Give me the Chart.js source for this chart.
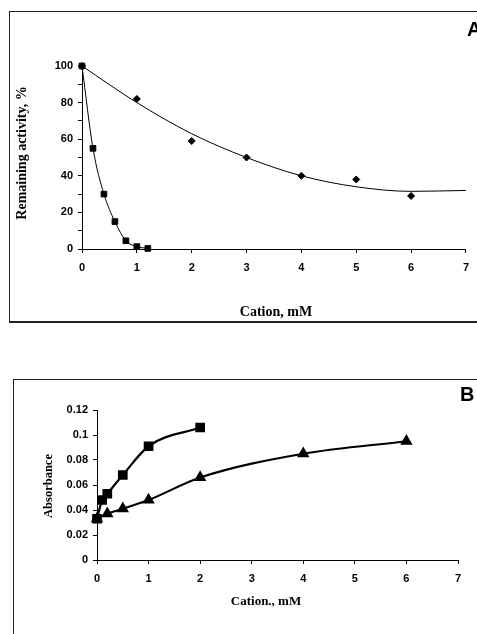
<!DOCTYPE html>
<html>
<head>
<meta charset="utf-8">
<script src="https://cdn.jsdelivr.net/npm/chart.js@4"></script>
<style>
  body { margin: 0; background: #fff; width: 477px; height: 634px; overflow: hidden; position: relative; }
  .frame { position: absolute; border: 1px solid #222; }
  #frameA { left: 9px; top: 11px; width: 480px; height: 309px; border-bottom-width: 2px; }
  #frameB { left: 13px; top: 379px; width: 480px; height: 300px; }
  canvas { position: absolute; left: 0; }
  #chartA { top: 0; }
  #chartB { top: 340px; }
</style>
</head>
<body>
<div class="frame" id="frameA"></div>
<div class="frame" id="frameB"></div>
<canvas id="chartA" width="477" height="330"></canvas>
<canvas id="chartB" width="477" height="294"></canvas>
<script>
// Panel A: remaining activity vs cation
const cationA1 = [0, 1, 2, 3, 4, 5, 6];
const activityA1 = [100, 82, 59, 50, 40, 38, 29];
const trendXA1 = [0, 1, 2, 3, 4, 5, 6, 7];
const trendA1 = [100, 80, 63, 50, 40, 34, 31.5, 32];
const cationA2 = [0, 0.2, 0.4, 0.6, 0.8, 1.0, 1.2];
const activityA2 = [100, 55, 30, 15, 4.5, 1.3, 0.3];

// Panel B: absorbance vs cation
const cationB1 = [0, 0.1, 0.2, 0.5, 1, 2];
const absB1 = [0.033, 0.048, 0.053, 0.068, 0.091, 0.106];
const cationB2 = [0, 0.2, 0.5, 1, 2, 4, 6];
const absB2 = [0.033, 0.037, 0.041, 0.048, 0.066, 0.085, 0.095];

const pts = (xs, ys) => xs.map((x, i) => ({ x: x, y: ys[i] }));

const tickFont = { family: 'Liberation Sans', weight: 'bold', size: 11 };
Chart.defaults.color = '#000';
Chart.defaults.animation = false;

// draws axis titles and panel letters
const axisTitles = {
  id: 'axisTitles',
  afterDraw(chart, args, opts) {
    const ctx = chart.ctx;
    ctx.save();
    ctx.fillStyle = '#000';
    ctx.textBaseline = 'middle';
    opts.items.forEach(it => {
      ctx.save();
      ctx.font = it.font;
      ctx.textAlign = it.align || 'center';
      ctx.translate(it.x, it.y);
      if (it.rotate) ctx.rotate(-Math.PI / 2);
      ctx.fillText(it.text, 0, 0);
      ctx.restore();
    });
    ctx.restore();
  }
};

function axis(min, max, step, size, isX, cb) {
  return {
    type: 'linear',
    min: min,
    max: max,
    ticks: { stepSize: step, font: tickFont, padding: isX ? 8 : 5, callback: cb },
    grid: { drawOnChartArea: false, drawTicks: true, tickLength: 4, color: '#000' },
    border: { color: '#000', width: 1 },
    afterFit: s => { if (isX) s.height = size; else s.width = size; }
  };
}

new Chart(document.getElementById('chartA'), {
  type: 'scatter',
  data: {
    datasets: [
      {
        data: pts(trendXA1, trendA1),
        showLine: true, borderColor: '#000', borderWidth: 1,
        cubicInterpolationMode: 'monotone', pointRadius: 0, clip: false
      },
      {
        data: pts(cationA1, activityA1),
        showLine: false, pointStyle: 'rectRot', pointRadius: 3.5,
        backgroundColor: '#000', borderColor: '#000', clip: false
      },
      {
        data: pts(cationA2, activityA2),
        showLine: true, borderColor: '#000', borderWidth: 1,
        cubicInterpolationMode: 'monotone', pointStyle: 'rect', pointRadius: 4,
        backgroundColor: '#000', clip: false
      }
    ]
  },
  options: {
    responsive: false,
    layout: { padding: { top: 66, right: 6, left: 0, bottom: 0 } },
    plugins: {
      legend: { display: false },
      tooltip: { enabled: false },
      axisTitles: {
        items: [
          { text: 'Cation, mM', x: 276, y: 312, font: 'bold 14px "Liberation Serif"' },
          { text: 'Remaining activity, %', x: 22, y: 153, rotate: true, font: 'bold 14px "Liberation Serif"' },
          { text: 'A', x: 467, y: 30, align: 'left', font: 'bold 20px "Liberation Sans"' }
        ]
      }
    },
    scales: {
      x: axis(0, 7, 1, 81, true),
      y: axis(0, 100, 10, 82, false, v => (v % 20 === 0 ? v : ''))
    }
  },
  plugins: [axisTitles]
});

new Chart(document.getElementById('chartB'), {
  type: 'scatter',
  data: {
    datasets: [
      {
        data: pts(cationB1, absB1),
        showLine: true, borderColor: '#000', borderWidth: 2.2,
        cubicInterpolationMode: 'monotone', pointStyle: 'rect', pointRadius: 5.3,
        backgroundColor: '#000', clip: false
      },
      {
        data: pts(cationB2, absB2),
        showLine: true, borderColor: '#000', borderWidth: 2.2,
        cubicInterpolationMode: 'monotone', pointStyle: 'triangle', pointRadius: 5,
        backgroundColor: '#000', clip: false
      }
    ]
  },
  options: {
    responsive: false,
    layout: { padding: { top: 70, right: 19, left: 0, bottom: 0 } },
    plugins: {
      legend: { display: false },
      tooltip: { enabled: false },
      axisTitles: {
        items: [
          { text: 'Cation., mM', x: 266, y: 262, font: 'bold 13px "Liberation Serif"' },
          { text: 'Absorbance', x: 49, y: 146, rotate: true, font: 'bold 12.5px "Liberation Serif"' },
          { text: 'B', x: 460, y: 55, align: 'left', font: 'bold 20px "Liberation Sans"' }
        ]
      }
    },
    scales: {
      x: axis(0, 7, 1, 74, true),
      y: axis(0, 0.12, 0.02, 97, false, v => parseFloat(v.toFixed(3)).toString())
    }
  },
  plugins: [axisTitles]
});
</script>
</body>
</html>
